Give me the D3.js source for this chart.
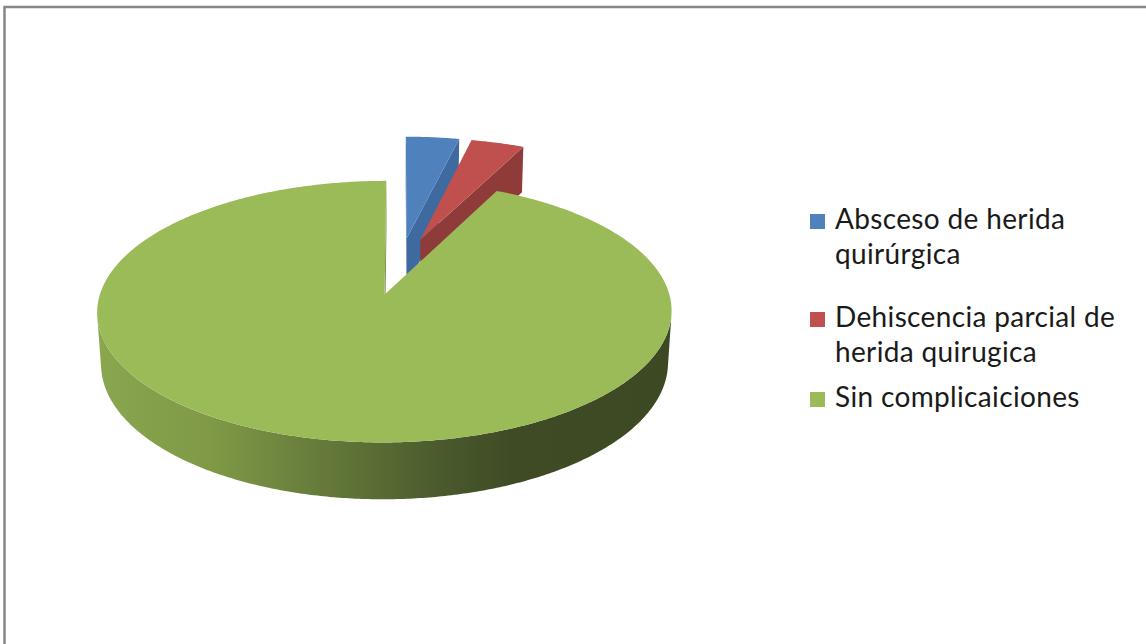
<!DOCTYPE html>
<html>
<head>
<meta charset="utf-8">
<script src="https://cdn.jsdelivr.net/npm/d3@7"></script>
<style>
  html, body { margin: 0; padding: 0; background: #ffffff; }
  svg { display: block; }
</style>
</head>
<body>
<svg id="chart" width="1146" height="644"></svg>
<script>
// Complication categories (legend text, one array entry per wrapped line)
const categories = [
  ["Absceso de herida", "quirúrgica"],
  ["Dehiscencia parcial de", "herida quirugica"],
  ["Sin complicaiciones"]
];
// Patient counts per category
const values = [1, 1, 26];
// Face colours per slice: lit top and shaded sides
const topColors = ["#4f81bd", "#c0504d", "#9bbb59"];
const sideColors = ["#3f6aa0", "#8f3b39", "#6f8a3c"];

const W = 1146, H = 644;
const svg = d3.select("#chart");

// Chart frame
svg.append("rect")
  .attr("x", 4.5).attr("y", 7)
  .attr("width", W + 10).attr("height", H + 10)
  .attr("fill", "#ffffff")
  .attr("stroke", "#878787").attr("stroke-width", 2.5);

// --- 3D pie geometry (unit radius in world space) ---
const depth = 0.205;        // slab thickness
const explode = 0.235;      // radial offset of every slice
const tilt = 26 * Math.PI / 180;
const camDist = 7.1;
const scale = 276.5;
const ox = 399.5, oy = 266;
const cosT = Math.cos(tilt), sinT = Math.sin(tilt);
const cam = [0, camDist * sinT, camDist * cosT];

function project(X, Y, Z) {
  const yp = Y * cosT - Z * sinT;
  const zp = Y * sinT + Z * cosT;
  const f = 1 / (1 - zp / camDist);
  return [ox + scale * X * f, oy - scale * yp * f];
}

const pie = d3.pie().sort(null).value(d => d).startAngle(0).endAngle(2 * Math.PI);
const arcs = pie(values).map((a, i) => {
  const mid = (a.startAngle + a.endAngle) / 2;
  return { ...a, i, cx: explode * Math.sin(mid), cz: -explode * Math.cos(mid) };
});

const line = d3.line();
const defs = svg.append("defs");

// horizontal shading across the front wall of the large slice
const grad = defs.append("linearGradient")
  .attr("id", "wallShade").attr("gradientUnits", "userSpaceOnUse")
  .attr("x1", 97).attr("x2", 671).attr("y1", 0).attr("y2", 0);
[[0, "#8aa64f"], [0.2, "#7f9946"], [0.4, "#64793a"], [0.6, "#4a5a2d"], [0.72, "#3f4b25"], [1, "#3d4923"]]
  .forEach(([o, c]) => grad.append("stop").attr("offset", o).attr("stop-color", c));

const rim = (d, t, Y) => project(d.cx + Math.sin(t), Y, d.cz - Math.cos(t));
const apex = (d, Y) => project(d.cx, Y, d.cz);

function visible(n, p) {
  return n[0] * (cam[0] - p[0]) + n[1] * (cam[1] - p[1]) + n[2] * (cam[2] - p[2]) > 0;
}

const pieG = svg.append("g");
// paint far slices first
const order = arcs.slice().sort((a, b) => a.cz - b.cz);

order.forEach(d => {
  const g = pieG.append("g");
  const steps = Math.max(8, Math.ceil((d.endAngle - d.startAngle) / 0.01));
  const ts = d3.range(steps + 1).map(k => d.startAngle + (d.endAngle - d.startAngle) * k / steps);

  // radial walls at the two cut edges
  [[d.startAngle, -1], [d.endAngle, 1]].forEach(([a, s]) => {
    const na = a + s * Math.PI / 2;
    const n = [Math.sin(na), 0, -Math.cos(na)];
    const mp = [d.cx + 0.5 * Math.sin(a), -depth / 2, d.cz - 0.5 * Math.cos(a)];
    if (!visible(n, mp)) return;
    g.append("path")
      .attr("d", line([apex(d, 0), rim(d, a, 0), rim(d, a, -depth), apex(d, -depth)]) + "Z")
      .attr("fill", sideColors[d.i]);
  });

  // curved outer wall, only the camera-facing stretch
  const vis = ts.filter(t => visible([Math.sin(t), 0, -Math.cos(t)],
    [d.cx + Math.sin(t), -depth / 2, d.cz - Math.cos(t)]));
  if (vis.length > 1) {
    const topE = vis.map(t => rim(d, t, 0));
    const botE = vis.slice().reverse().map(t => rim(d, t, -depth));
    g.append("path")
      .attr("d", line(topE.concat(botE)) + "Z")
      .attr("fill", d.i === 2 ? "url(#wallShade)" : sideColors[d.i]);
  }

  // top face
  g.append("path")
    .attr("d", line([apex(d, 0)].concat(ts.map(t => rim(d, t, 0)))) + "Z")
    .attr("fill", topColors[d.i]);
});

// --- legend ---
const legendFont = "Lato, 'Open Sans', sans-serif";
const legendX = 810, textX = 835, sw = 15;
const baselines = [[229, 264], [327, 362], [407]];
const lg = svg.append("g");
categories.forEach((lines, i) => {
  lg.append("rect")
    .attr("x", legendX).attr("y", baselines[i][0] - sw)
    .attr("width", sw).attr("height", sw)
    .attr("fill", topColors[i]);
  lines.forEach((txt, j) => {
    lg.append("text")
      .attr("x", textX).attr("y", baselines[i][j])
      .attr("font-family", legendFont).attr("font-size", 28)
      .attr("letter-spacing", 0.35)
      .attr("fill", "#1a1a1a")
      .text(txt);
  });
});
</script>
</body>
</html>
